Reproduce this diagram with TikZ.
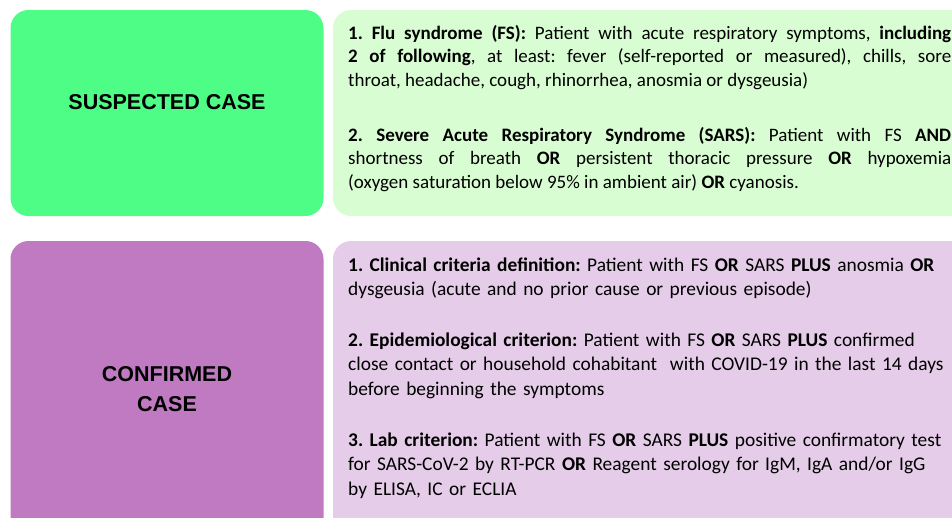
\documentclass[tikz,border=0pt]{standalone}
\usepackage{fontspec}
\setmainfont{Carlito}
\newfontfamily\titlefont{Liberation Sans}
\usepackage{xcolor}
\frenchspacing

\definecolor{suspgreen}{HTML}{4DFD85}
\definecolor{suspback}{HTML}{D9FDD3}
\definecolor{confpurple}{HTML}{BF7AC1}
\definecolor{confback}{HTML}{E5CCE8}

\begin{document}
\begin{tikzpicture}
[x=1pt,y=-1pt,
casebox/.style={rounded corners=18pt},
title/.style={font=\titlefont\bfseries\fontsize{21.5}{30}\selectfont,align=center,inner sep=0pt},
crit/.style={anchor=base west,inner sep=0pt,text width=603pt,font=\fontsize{19}{23.7}\selectfont},
]

\useasboundingbox (0,0) rectangle (952,517);
\clip (0,0) rectangle (952,517);

%Boxes
\fill[casebox,suspgreen] (10.5,10) rectangle (323.5,216);
\fill[casebox,suspback] (333,10) rectangle (980,216);
\fill[casebox,confpurple] (10.5,241) rectangle (323.5,545);
\fill[casebox,confback] (333,241) rectangle (980,545);

%Case titles
\node (susp) at (167,109)[title,anchor=base] {SUSPECTED CASE};
\node (conf) at (167,411.5)[title,anchor=base] {CONFIRMED\\CASE};

%Suspected case criteria
\node (fs) at (348,39)[crit,align=justify] {\textbf{1. Flu syndrome (FS):} Patient with acute respiratory symptoms, \textbf{including}\linebreak
\textbf{2 of following}, at least: fever (self-reported or measured), chills, sore\linebreak
throat, headache, cough, rhinorrhea, anosmia or dysgeusia)};
\node (sars) at (348,141)[crit,align=justify] {\textbf{2. Severe Acute Respiratory Syndrome (SARS):} Patient with FS \textbf{AND}\linebreak
shortness of breath \textbf{OR} persistent thoracic pressure \textbf{OR} hypoxemia\linebreak
(oxygen saturation below 95\% in ambient air) \textbf{OR} cyanosis.};

%Confirmed case criteria
\node (clin) at (348,271)[crit,align=left,font=\fontsize{19.4}{24.5}\selectfont] {\textbf{1. Clinical criteria definition:} Patient with FS \textbf{OR} SARS \textbf{PLUS} anosmia \textbf{OR}\\
dysgeusia (acute and no prior cause or previous episode)};
\node (epid) at (348,346)[crit,align=left,font=\fontsize{19.4}{24.5}\selectfont] {\textbf{2. Epidemiological criterion:} Patient with FS \textbf{OR} SARS \textbf{PLUS} confirmed\\
close contact or household cohabitant~ with COVID-19 in the last 14 days\\
before beginning the symptoms};
\node (lab) at (348,446)[crit,align=left,font=\fontsize{19.4}{24.5}\selectfont] {\textbf{3. Lab criterion:} Patient with FS \textbf{OR} SARS \textbf{PLUS} positive confirmatory test\\
for SARS-CoV-2 by RT-PCR \textbf{OR} Reagent serology for IgM, IgA and/or IgG\\
by ELISA, IC or ECLIA};

\end{tikzpicture}
\end{document}
